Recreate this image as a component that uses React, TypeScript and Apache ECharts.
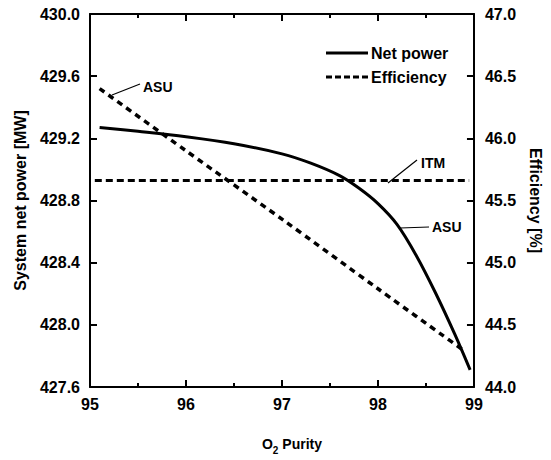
import React, { useEffect, useRef } from "react";
import * as echarts from "echarts";

const purityNet = [95.1, 95.5, 96.0, 96.5, 97.0, 97.3, 97.6, 97.8, 98.0, 98.2, 98.4, 98.6, 98.8, 98.96];
const netPower = [429.27, 429.245, 429.21, 429.165, 429.1, 429.04, 428.96, 428.88, 428.78, 428.645, 428.445, 428.205, 427.94, 427.71];

const purityAsu = [95.1, 96.0, 97.0, 98.0, 98.9];
const effAsu = [46.4, 45.9, 45.35, 44.79, 44.29];

const purityItm = [95.05, 98.95];
const effItm = [45.66, 45.66];

const xTicks = { min: 95, max: 99, interval: 1 };
const leftTicks = { min: 427.6, max: 430.0, interval: 0.4 };
const rightTicks = { min: 44.0, max: 47.0, interval: 0.5 };

const FONT = "'Liberation Sans', Arial, sans-serif";

const SOLID_ICON = "path://M0,0H42V3H0Z";
const DASH_ICON = "path://M0,0H6V3H0Z M9,0H15V3H9Z M18,0H24V3H18Z M27,0H33V3H27Z M36,0H42V3H36Z";

export default function App() {
  const ref = useRef<HTMLDivElement>(null);
  useEffect(() => {
    if (!ref.current) return;
    const chart = echarts.init(ref.current, undefined, { renderer: "svg" });
    const labelStyle = { fontFamily: FONT, fontWeight: "bold" as const, fontSize: 16, color: "#000" };
    const axisLine = { show: true, lineStyle: { color: "#000", width: 2 } };
    const axisTick = { show: true, inside: true, length: 7, lineStyle: { color: "#000", width: 2 } };
    const minorTick = { show: true, splitNumber: 2, length: 4, lineStyle: { color: "#000", width: 2 } };
    chart.setOption({
      animation: false,
      backgroundColor: "#fff",
      grid: { left: 90, right: 76, top: 14, bottom: 68, containLabel: false },
      legend: {
        orient: "vertical",
        left: 321,
        top: 40,
        itemWidth: 42,
        itemHeight: 16,
        itemGap: 8,
        symbolKeepAspect: true,
        textStyle: { ...labelStyle, fontSize: 16, padding: [0, 0, 0, -2] },
        data: [
          { name: "Net power", icon: SOLID_ICON, itemStyle: { color: "#000" } },
          { name: "Efficiency", icon: DASH_ICON, itemStyle: { color: "#000" } },
        ],
      },
      xAxis: [
        {
          type: "value",
          position: "bottom",
          min: xTicks.min,
          max: xTicks.max,
          interval: xTicks.interval,
          axisLine,
          axisTick,
          minorTick,
          splitLine: { show: false },
          axisLabel: { ...labelStyle, margin: 9 },
          name: "{a|O}{s|2}{a| Purity}",
          nameLocation: "middle",
          nameGap: 46,
          nameTextStyle: {
            padding: [0, 0, 0, 20],
            rich: {
              a: { fontFamily: FONT, fontWeight: "bold", fontSize: 14, color: "#000" },
              s: { fontFamily: FONT, fontWeight: "bold", fontSize: 10, color: "#000", padding: [12, 0, 0, 0] },
            },
          },
        },
        {
          type: "value",
          position: "top",
          min: xTicks.min,
          max: xTicks.max,
          interval: xTicks.interval,
          axisLine,
          axisTick,
          minorTick,
          splitLine: { show: false },
          axisLabel: { show: false },
        },
      ],
      yAxis: [
        {
          type: "value",
          position: "left",
          min: leftTicks.min,
          max: leftTicks.max,
          interval: leftTicks.interval,
          axisLine,
          axisTick,
          splitLine: { show: false },
          axisLabel: { ...labelStyle, margin: 10, formatter: (v: number) => v.toFixed(1) },
          name: "System net power [MW]",
          nameLocation: "middle",
          nameRotate: 90,
          nameGap: 62,
          nameTextStyle: { ...labelStyle, fontSize: 16 },
        },
        {
          type: "value",
          position: "right",
          min: rightTicks.min,
          max: rightTicks.max,
          interval: rightTicks.interval,
          axisLine,
          axisTick,
          splitLine: { show: false },
          axisLabel: { ...labelStyle, margin: 11, formatter: (v: number) => v.toFixed(1) },
          name: "Efficiency [%]",
          nameLocation: "middle",
          nameRotate: -90,
          nameGap: 50,
          nameTextStyle: { ...labelStyle, fontSize: 16 },
        },
      ],
      series: [
        {
          name: "Net power",
          type: "line",
          xAxisIndex: 0,
          yAxisIndex: 0,
          smooth: 0.35,
          showSymbol: false,
          symbol: "none",
          lineStyle: { color: "#000", width: 3 },
          itemStyle: { color: "#000" },
          data: purityNet.map((x, i) => [x, netPower[i]]),
        },
        {
          name: "Efficiency",
          type: "line",
          xAxisIndex: 0,
          yAxisIndex: 1,
          smooth: 0.3,
          showSymbol: false,
          symbol: "none",
          lineStyle: { color: "#000", width: 3.5, type: [6, 5] },
          itemStyle: { color: "#000" },
          data: purityAsu.map((x, i) => [x, effAsu[i]]),
        },
        {
          name: "Efficiency",
          type: "line",
          xAxisIndex: 0,
          yAxisIndex: 1,
          showSymbol: false,
          symbol: "none",
          lineStyle: { color: "#000", width: 3, type: [7, 4] },
          itemStyle: { color: "#000" },
          data: purityItm.map((x, i) => [x, effItm[i]]),
        },
      ],
      graphic: [
        { type: "line", shape: { x1: 112, y1: 95, x2: 140, y2: 84 }, style: { stroke: "#000", lineWidth: 1.2 } },
        { type: "text", x: 143, y: 87, style: { text: "ASU", font: `bold 14px ${FONT}`, fill: "#000", verticalAlign: "middle" } },
        { type: "line", shape: { x1: 388, y1: 183, x2: 417, y2: 160 }, style: { stroke: "#000", lineWidth: 1.2 } },
        { type: "text", x: 421, y: 163, style: { text: "ITM", font: `bold 14px ${FONT}`, fill: "#000", verticalAlign: "middle" } },
        { type: "line", shape: { x1: 400, y1: 228, x2: 429, y2: 227 }, style: { stroke: "#000", lineWidth: 1.2 } },
        { type: "text", x: 432, y: 227, style: { text: "ASU", font: `bold 14px ${FONT}`, fill: "#000", verticalAlign: "middle" } },
      ],
    });
    return () => chart.dispose();
  }, []);
  return <div ref={ref} style={{ width: 551, height: 460, position: "absolute", left: 0, top: 0 }} />;
}
